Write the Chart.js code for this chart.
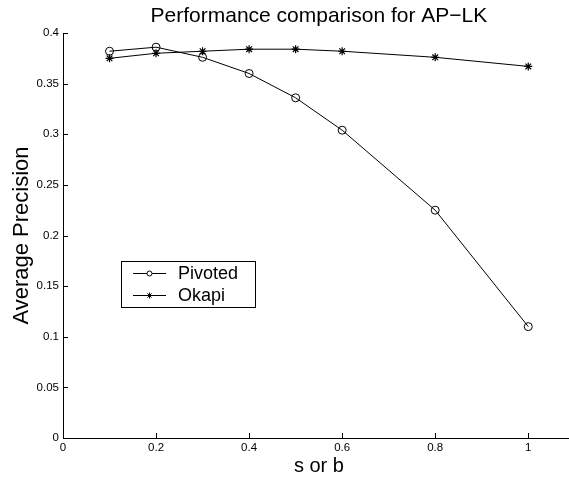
<!DOCTYPE html>
<html>
<head>
<meta charset="utf-8">
<script src="https://cdn.jsdelivr.net/npm/chart.js@4/dist/chart.umd.min.js"></script>
<style>
  html, body { margin: 0; padding: 0; background: #fff; overflow: hidden; }
  #wrap { width: 580px; height: 479px; }
</style>
</head>
<body>
<div id="wrap"><canvas id="chart"></canvas></div>
<script>
const xValues = [0.1, 0.2, 0.3, 0.4, 0.5, 0.6, 0.8, 1.0];
const pivoted = [0.382, 0.386, 0.376, 0.360, 0.336, 0.304, 0.225, 0.110];
const okapi = [0.375, 0.380, 0.382, 0.384, 0.384, 0.382, 0.376, 0.367];
const xTicks = [0, 0.2, 0.4, 0.6, 0.8, 1];
const yTicks = [0, 0.05, 0.1, 0.15, 0.2, 0.25, 0.3, 0.35, 0.4];

const font = "'Liberation Sans', Arial, Helvetica, sans-serif";

// MATLAB style inward ticks, title, axis labels and legend box
const decor = {
  id: "decor",
  afterDraw(chart) {
    const ctx = chart.ctx;
    const xs = chart.scales.x, ys = chart.scales.y;
    const area = chart.chartArea;
    const cx = (area.left + area.right) / 2;
    ctx.save();
    ctx.strokeStyle = "#000";
    ctx.lineWidth = 1;
    ctx.beginPath();
    xTicks.forEach(v => {
      const px = Math.round(xs.getPixelForValue(v)) + 0.5;
      ctx.moveTo(px, area.bottom);
      ctx.lineTo(px, area.bottom - 5);
    });
    yTicks.forEach(v => {
      const py = Math.round(ys.getPixelForValue(v)) + 0.5;
      ctx.moveTo(area.left, py);
      ctx.lineTo(area.left + 5, py);
    });
    ctx.stroke();

    ctx.fillStyle = "#000";
    ctx.textAlign = "center";
    ctx.textBaseline = "middle";
    ctx.font = "21px " + font;
    ctx.fillText("Performance comparison for AP\u2212LK", cx, 16);
    ctx.font = "20px " + font;
    ctx.fillText("s or b", cx, 466);
    ctx.save();
    ctx.translate(22, (area.top + area.bottom) / 2);
    ctx.rotate(-Math.PI / 2);
    ctx.font = "22px " + font;
    ctx.fillText("Average Precision", 0, 0);
    ctx.restore();

    // legend
    const lx = 121, ly = 261, lw = 134, lh = 46;
    ctx.lineWidth = 1;
    ctx.strokeRect(lx + 0.5, ly + 0.5, lw, lh);
    const rows = [["Pivoted", "circle", 273], ["Okapi", "star", 295]];
    ctx.font = "18px " + font;
    ctx.textAlign = "left";
    rows.forEach(([label, style, y]) => {
      ctx.beginPath();
      ctx.moveTo(lx + 12, y + 0.5);
      ctx.lineTo(lx + 45, y + 0.5);
      ctx.stroke();
      if (style === "circle") {
        ctx.fillStyle = "#fff";
        ctx.beginPath();
        ctx.arc(lx + 28.5, y + 0.5, 2.5, 0, Math.PI * 2);
        ctx.fill();
        ctx.stroke();
        ctx.fillStyle = "#000";
      } else {
        Chart.helpers.drawPoint(ctx, { pointStyle: "star", radius: 3, borderWidth: 1 }, lx + 28.5, y + 0.5);
      }
      ctx.fillText(label, lx + 57, y + 1);
    });
    ctx.restore();
  }
};

new Chart(document.getElementById("chart"), {
  type: "line",
  data: {
    datasets: [
      {
        label: "Pivoted",
        data: xValues.map((x, i) => ({ x, y: pivoted[i] })),
        borderColor: "#000",
        borderWidth: 1,
        pointStyle: "circle",
        pointRadius: 4,
        pointBorderWidth: 1,
        pointBackgroundColor: "rgba(255,255,255,0)",
        pointBorderColor: "#000",
        tension: 0
      },
      {
        label: "Okapi",
        data: xValues.map((x, i) => ({ x, y: okapi[i] })),
        borderColor: "#000",
        borderWidth: 1,
        pointStyle: "star",
        pointRadius: 4,
        pointBorderWidth: 1.2,
        pointBorderColor: "#000",
        tension: 0
      }
    ]
  },
  options: {
    responsive: true,
    maintainAspectRatio: false,
    animation: false,
    layout: { padding: { top: 33, right: 3, left: 0, bottom: 0 } },
    plugins: {
      legend: { display: false },
      tooltip: { enabled: false }
    },
    scales: {
      x: {
        type: "linear",
        min: 0,
        max: 1.1,
        afterFit: s => { s.height = 41; },
        afterBuildTicks: s => { s.ticks = xTicks.map(v => ({ value: v })); },
        grid: { display: false, drawTicks: false },
        border: { display: true, color: "#000", width: 1 },
        ticks: {
          color: "#000",
          font: { family: font, size: 11.5 },
          padding: 3,
          maxRotation: 0,
          callback: v => String(+v.toFixed(2))
        }
      },
      y: {
        type: "linear",
        min: 0,
        max: 0.4,
        afterFit: s => { s.width = 63; },
        afterBuildTicks: s => { s.ticks = yTicks.map(v => ({ value: v })); },
        grid: { display: false, drawTicks: false },
        border: { display: true, color: "#000", width: 1 },
        ticks: {
          color: "#000",
          font: { family: font, size: 11.5 },
          padding: 4,
          callback: v => String(+v.toFixed(2))
        }
      }
    }
  },
  plugins: [decor]
});
</script>
</body>
</html>
